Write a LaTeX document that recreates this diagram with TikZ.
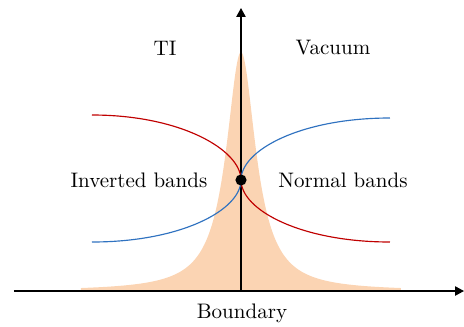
\documentclass[tikz,border=0pt]{standalone}
\usepackage{tikz}
\usetikzlibrary{arrows.meta}
\usepackage{xcolor}
\definecolor{peach}{HTML}{FBD4B3}
\definecolor{bandred}{HTML}{C00000}
\definecolor{bandblue}{HTML}{2F72C0}

\begin{document}
\begin{tikzpicture}[
  x=0.476pt, y=0.476pt,
  axis/.style={-{Triangle[length=4.2pt, width=4.4pt]}, line width=0.6pt},
  redband/.style={draw=bandred, line width=0.55pt},
  blueband/.style={draw=bandblue, line width=0.55pt},
  label/.style={font=\normalsize, inner sep=1pt},
  dot/.style={circle, fill=black, minimum size=5.3pt, inner sep=0pt}
]
\useasboundingbox (-241,-35) rectangle (223,291);
% surface state density
\fill[peach] (-160,0) -- plot[domain=-160:160, samples=240, smooth] (\x, {239/(1+(\x/18)^2)}) -- (160,0) -- cycle;
% axes
\coordinate (origin) at (0,0);
\coordinate (xstart) at (-227,0);
\coordinate (xend) at (223,0);
\coordinate (yend) at (0,283);
\draw[axis] (xstart) -- (xend);
\draw[axis] (origin) -- (yend);
% bands
\coordinate (dirac) at (0,111);
\coordinate (redL) at (-149,176);
\coordinate (redR) at (149,49);
\coordinate (blueL) at (-149,49);
\coordinate (blueR) at (149,173);
\draw[redband] (redL) .. controls +(89,0) and +(0,30) .. (dirac) .. controls +(0,-30) and +(-89,0) .. (redR);
\draw[blueband] (blueL) .. controls +(89,0) and +(0,-30) .. (dirac) .. controls +(0,30) and +(-89,0) .. (blueR);
\node[dot] (point) at (dirac) {};
% labels
\node[label] (ti) at (-76,243) {TI};
\node[label] (vacuum) at (92,243) {Vacuum};
\node[label] (inverted) at (-102,111) {Inverted bands};
\node[label] (normal) at (102,111) {Normal bands};
\node[label] (boundary) at (1,-22) {Boundary};
\end{tikzpicture}
\end{document}
